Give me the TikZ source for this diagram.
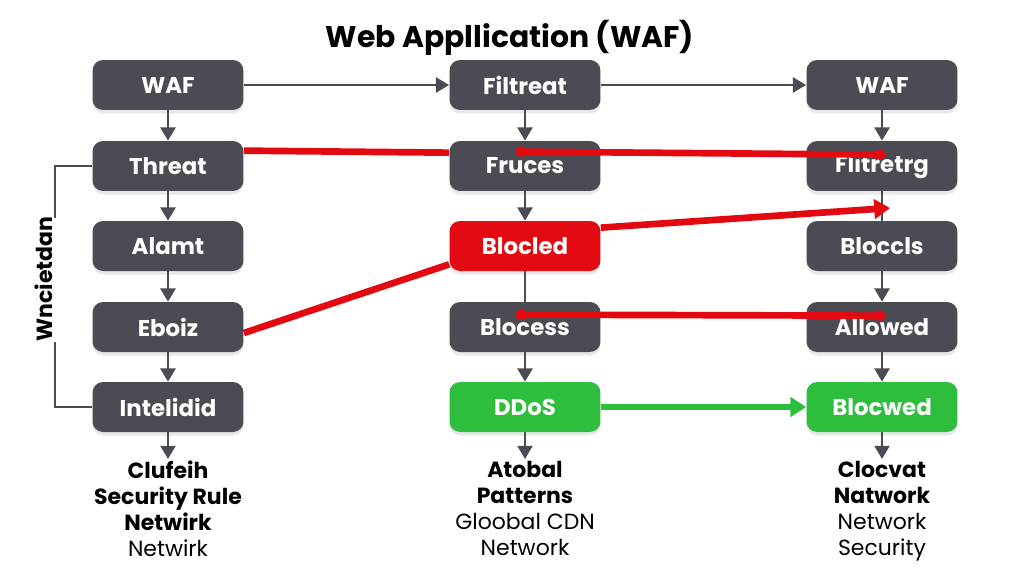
\documentclass[tikz,border=0pt]{standalone}
\usepackage{fontspec}
\setmainfont{Poppins}
\usetikzlibrary{calc}
\usetikzlibrary{arrows.meta, positioning, shadows}
\definecolor{boxgray}{HTML}{4B4C53}
\definecolor{alertred}{HTML}{E20A10}
\definecolor{okgreen}{HTML}{2EBE3E}

\begin{document}
\begin{tikzpicture}[x=0.02cm, y=-0.02cm, >=Triangle,
  wafbox/.style={fill=boxgray, text=white, rounded corners=6pt,
    minimum width=3.02cm, minimum height=1cm,
    font=\fontsize{13}{15}\selectfont\bfseries,
    drop shadow={shadow xshift=0pt, shadow yshift=-2pt, opacity=0.18}},
  flow/.style={linegray, line width=1.4pt},
  redline/.style={alertred, line width=3.8pt},
  note/.style={anchor=north, align=center, inner sep=1pt,
    font=\fontsize{12.5}{14.8}\selectfont},
  linegray/.style={draw=boxgray}]

\useasboundingbox (0,0) rectangle (1024,585);

\node[font=\fontsize{17}{20}\selectfont\bfseries] (title) at (510,38) {Web Appllication (WAF)};

% boxes, column by column
\foreach \name/\txt/\y/\col in {waf1/WAF/85/boxgray, threat/Threat/166/boxgray,
  alamt/Alamt/246/boxgray, eboiz/Eboiz/327/boxgray, intel/Intelidid/407/boxgray} {
  \node[wafbox, fill=\col] (\name) at (168,\y) {\txt};
}
\foreach \name/\txt/\y/\col in {filtreat/Filtreat/85/boxgray, fruces/Fruces/166/boxgray,
  blocled/Blocled/246/alertred, blocess/Blocess/327/boxgray, ddos/DDoS/407/okgreen} {
  \node[wafbox, fill=\col] (\name) at (525,\y) {\txt};
}
\foreach \name/\txt/\y/\col in {waf3/WAF/85/boxgray, flitretrg/Flitretrg/166/boxgray,
  bloccls/Bloccls/246/boxgray, allowed/Allowed/327/boxgray, blocwed/Blocwed/407/okgreen} {
  \node[wafbox, fill=\col] (\name) at (882,\y) {\txt};
}

% notes under the columns
\node[note] (note1) at (168,459) {\textbf{Clufeih}\\\textbf{Security Rule}\\\textbf{Netwirk}\\Netwirk};
\node[note] (note2) at (525,459) {\textbf{Atobal}\\\textbf{Patterns}\\Gloobal CDN\\Network};
\node[note] (note3) at (882,459) {\textbf{Clocvat}\\\textbf{Natwork}\\Network\\Security};

% gray flow
\foreach \u/\v in {waf1/threat, threat/alamt, alamt/eboiz, eboiz/intel, intel/note1,
  filtreat/fruces, fruces/blocled, blocess/ddos, ddos/note2,
  waf3/flitretrg, bloccls/allowed, allowed/blocwed, blocwed/note3} {
  \draw[flow, -{Triangle[length=7.5pt,width=8.5pt]}] (\u) -- (\v);
}
\draw[flow] (blocled) -- (blocess);
\draw[flow] (flitretrg) -- (bloccls);
\draw[flow, -{Triangle[length=7.5pt,width=8.5pt]}] (waf1) -- (filtreat);
\draw[flow, -{Triangle[length=7.5pt,width=8.5pt]}] (filtreat) -- (waf3);

% side bracket
\node[rotate=90, font=\fontsize{12.5}{15}\selectfont\bfseries] (side) at (44,279) {Wncietdan};
\coordinate (brtop) at (55,218);
\coordinate (brbot) at (55,342);
\draw[flow] (threat.west) -| (brtop);
\draw[flow] (brbot) |- (intel.west);

% red paths
\draw[redline] ([yshift=-0.2cm]threat.north east) -- ([yshift=-0.24cm]fruces.north west);
\coordinate (d1) at ([xshift=-0.08cm, yshift=-0.22cm]fruces.north);
\coordinate (d2) at ([xshift=-0.04cm, yshift=-0.28cm]flitretrg.north);
\draw[redline] (d1) -- (d2);
\fill[alertred] (d1) circle (5.5) (d2) circle (5.5);

\draw[redline] ([yshift=-0.12cm]eboiz.east) -- ([yshift=0.14cm]blocled.south west);
\coordinate (redtip) at ($(flitretrg.south)!0.5!(bloccls.north)+(8,2)$);
\draw[redline, -{Triangle[length=9pt,width=11pt]}] ([yshift=-0.14cm]blocled.north east) -- (redtip);

\coordinate (d3) at ([xshift=-0.08cm, yshift=-0.26cm]blocess.north);
\coordinate (d4) at ([xshift=-0.04cm, yshift=-0.28cm]allowed.north);
\draw[redline] (d3) -- (d4);
\fill[alertred] (d3) circle (5.5) (d4) circle (5.5);

% green path
\draw[okgreen, line width=3.2pt, -{Triangle[length=9pt,width=11pt]}] (ddos) -- (blocwed);

\end{tikzpicture}
\end{document}
